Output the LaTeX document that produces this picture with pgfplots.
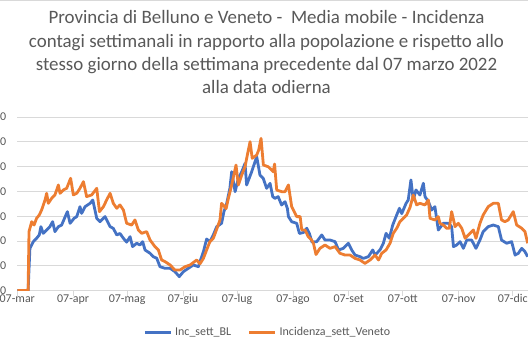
\documentclass[border=0pt]{standalone}
\usepackage{fontspec}
\setmainfont{Carlito}
\usepackage{pgfplots}
\pgfplotsset{compat=1.18}
\definecolor{xlblue}{HTML}{4472C4}
\definecolor{xlorange}{HTML}{ED7D31}
\definecolor{xltext}{HTML}{595959}
\definecolor{xlgrid}{HTML}{D9D9D9}
\begin{document}
\begin{tikzpicture}[x=1bp,y=1bp]
\path[use as bounding box] (0,0) rectangle (528,352);
\clip (0,0) rectangle (528,352);
\fill[white] (0,0) rectangle (528,352);
\draw[xlgrid, line width=1bp] (0,351.5) -- (528,351.5);
\node[align=center, text=xltext, font=\fontsize{19}{23.3}\selectfont] at (266.5,299.8)
 {Provincia di Belluno e Veneto -\ \ Media mobile - Incidenza\\
  contagi settimanali in rapporto alla popolazione e rispetto allo\\
  stesso giorno della settimana precedente dal 07 marzo 2022\\
  alla data odierna};
\begin{axis}[
  at={(17.3bp,61.5bp)}, anchor=south west,
  x=1.8015bp, y=0.124bp,
  xmin=0, xmax=300, ymin=0, ymax=1400,
  separate axis lines,
  axis x line*=bottom, axis y line*=left,
  y axis line style={draw=none},
  x axis line style={xlgrid, line width=0.75bp},
  xtick={0,31,61,92,122,153,184,214,245,275},
  xticklabels={07-mar,07-apr,07-mag,07-giu,07-lug,07-ago,07-set,07-ott,07-nov,07-dic},
  ytick={0,200,400,600,800,1000,1200,1400},
  /pgf/number format/assume math mode=true,
  /pgf/number format/1000 sep={.},
  tick align=outside,
  major tick length=5bp,
  xtick style={xlgrid, line width=0.75bp},
  ytick style={draw=none},
  ymajorgrids,
  grid style={xlgrid, line width=0.75bp},
  ticklabel style={text=xltext, font=\fontsize{12}{14}\selectfont},
  xticklabel style={anchor=base, inner sep=0pt, yshift=-7bp},
  yticklabel style={anchor=east, inner sep=0pt, xshift=-6bp},
  legend columns=2,
  legend cell align=left,
  legend style={at={(axis description cs:0.2331,-0.2391)}, anchor=west,
    draw=none, fill=none, inner sep=0pt, outer sep=0pt,
    nodes={inner sep=0pt, text=xltext, font=\fontsize{12}{14}\selectfont},
    /tikz/every even column/.append style={column sep=16.7bp}},
  legend image code/.code={\draw[#1, line width=3bp] (0bp,0bp) -- (26bp,0bp); \path (29bp,0bp);},
]
\addplot[xlblue, line width=2.8bp, line join=round] coordinates {
(0,0) (6,0) (7,340) (8.9,394) (10.7,421) (12.2,448) (13.1,515) (14.4,461)
(16.3,488) (18.1,515) (19.6,555) (20.9,475) (22.8,515) (24.6,528) (27.8,636)
(29.3,542) (31.5,582) (33,596) (34.8,676) (35.7,622) (37.6,676) (40.4,703)
(41.9,730) (44.1,582) (45.9,555) (48.7,596) (51.5,515) (53.3,501) (55.2,448)
(57,460) (58.9,421) (60.7,390) (62.6,434) (64,354) (66.3,381) (68.1,367)
(69.6,394) (70.9,327) (73.7,300) (75.5,273) (77.4,260) (79.2,192) (82,179)
(84.8,179) (87.5,152) (89.9,112) (92.2,152) (94.9,179) (97.7,206) (100.5,192)
(101.4,233) (103.3,313) (105.1,415) (106.9,394) (108.8,448) (110.7,515)
(113.4,542) (114.7,636) (116.2,700) (118,824) (119,958) (120.9,797)
(122.7,905) (124.6,958) (126.4,1025) (127.3,851) (130.1,958) (132.9,1079)
(134.7,931) (136.5,905) (138.4,824) (140.3,864) (141.8,757) (143,743)
(144.8,757) (146.7,690) (148.6,716) (149.9,663) (150.5,596) (152.3,555)
(155.1,542) (156.6,460) (158.8,468) (160.7,502) (162.1,461) (163.6,390)
(166.2,394) (169,448) (170.8,407) (173.6,407) (176.4,394) (178.3,327)
(181,340) (183.8,381) (185.6,327) (187.5,286) (190.2,273) (192.1,259)
(194.9,273) (197.3,327) (198.6,286) (201.3,327) (203.2,381) (204.7,461)
(206.5,421) (208.4,528) (210.6,609) (212.1,663) (213.4,620) (215.8,703)
(217,730) (218.5,892) (219.8,730) (221.3,811) (223.5,770) (225.4,865)
(226.3,757) (228.2,717) (230,649) (231.8,676) (233.7,488) (236.5,542)
(239.3,542) (241.1,515) (242.1,354) (243.9,367) (245.8,394) (247.6,340)
(249.5,407) (252.2,407) (254.6,340) (256.8,407) (258.6,475) (261.4,515)
(264.2,528) (267,515) (268.8,407) (271.6,381) (274.4,394) (276.3,286)
(278.1,300) (280,340) (281.8,313) (283.3,273)
};
\addlegendentry{Inc\_sett\_BL}
\addplot[xlorange, line width=2.8bp, line join=round] coordinates {
(0,0) (6,0) (6.5,475) (8,555) (9.3,528) (10.7,582) (12.2,609) (13.5,649)
(15.4,730) (16.3,784) (17.2,703) (19.1,744) (20.9,771) (22.8,851) (23.7,784)
(25.6,811) (27.4,824) (29.6,905) (31.1,771) (33,784) (34.8,824) (36.7,878)
(38.5,757) (41.3,771) (44.1,824) (45.6,636) (47.8,676) (49.6,730) (51.5,784)
(53.3,703) (55.2,663) (57,690) (58.9,649) (60.7,542) (63.5,528) (65.3,569)
(67.2,488) (69,461) (71.8,475) (73.7,407) (76.4,354) (78.3,327) (80.1,246)
(82,233) (84.8,206) (87.5,165) (90.3,165) (93.1,192) (95.9,206) (99.6,246)
(101.4,215) (103.3,259) (105.1,327) (106.9,394) (108.8,421) (110.7,495)
(112.5,569) (113.4,703) (114.3,690) (115.9,660) (117.1,740) (119,851)
(121.4,1012) (122.7,851) (124.6,932) (126.4,998) (127.5,1079) (129.2,1200)
(130.4,1066) (132.9,1093) (134,1133) (135.3,1227) (136.6,1012) (139.3,998)
(142.1,958) (142.8,1020) (144,810) (146.8,797) (148.6,797) (150.5,851)
(152.3,676) (155.1,596) (157,596) (157.9,488) (159.7,488) (161.5,434)
(163.4,407) (164.4,380) (165.8,290) (168,340) (170.8,367) (173.6,340)
(176.4,354) (179.1,300) (181.9,286) (184.7,286) (187.5,259) (190.2,246)
(193,219) (195.8,246) (198.6,286) (200.5,246) (202.3,300) (204.7,327)
(206.9,381) (208.7,461) (210.6,502) (212.4,555) (214.3,582) (216.1,609)
(218,670) (219.8,770) (221.7,690) (223.5,703) (226.3,690) (228.2,730)
(229.1,582) (231.8,569) (233.7,596) (234.6,542) (236.5,528) (238.3,502)
(239.8,502) (241.1,636) (243,515) (244.8,542) (246.7,502) (248.6,421)
(250.4,448) (253.2,488) (254.6,421) (256.8,542) (258.6,609) (261.4,676)
(264.2,703) (267,703) (268.8,569) (270.7,555) (272.5,569) (275.3,636)
(277.2,528) (280,502) (281.8,475) (283.3,381)
};
\addlegendentry{Incidenza\_sett\_Veneto}
\end{axis}
\end{tikzpicture}
\end{document}
